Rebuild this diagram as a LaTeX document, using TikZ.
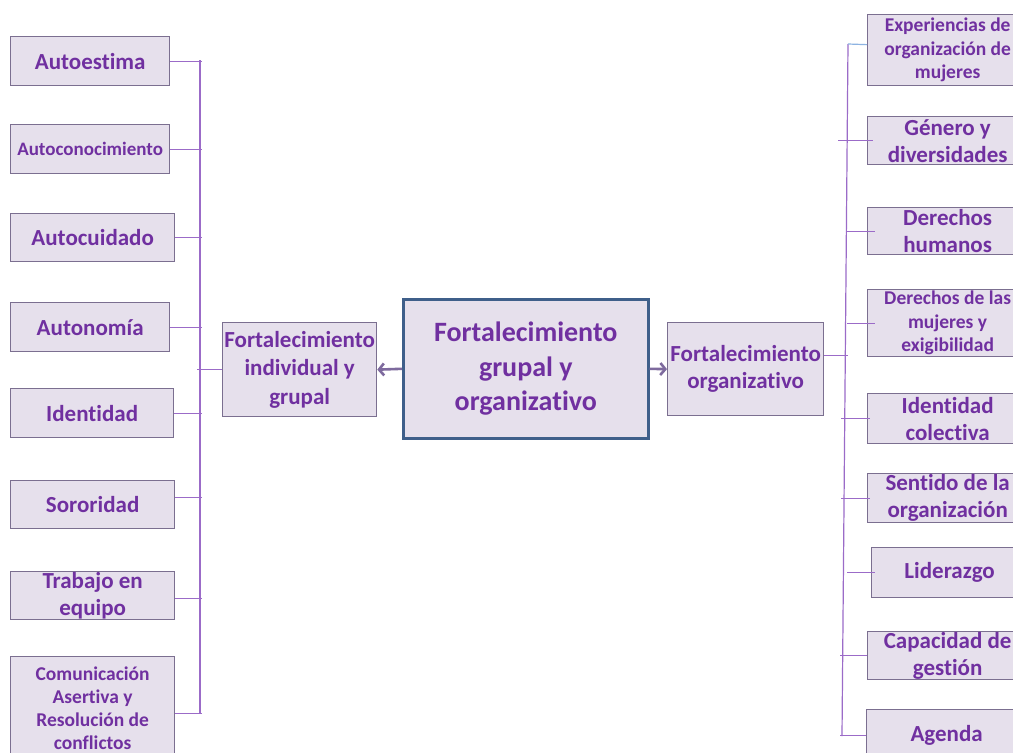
\documentclass[tikz,border=0pt]{standalone}
\usepackage{fontspec}
\setmainfont[Ligatures=NoCommon]{Carlito}
\usetikzlibrary{arrows.meta}
\definecolor{boxfill}{HTML}{E6E0EC}
\definecolor{boxline}{HTML}{7B6F90}
\definecolor{txt}{HTML}{7030A0}
\definecolor{conn}{HTML}{9B6BC8}
\definecolor{mainline}{HTML}{3F5F8A}
\definecolor{arrowc}{HTML}{7E6A9E}
\definecolor{blueconn}{HTML}{8DB3E2}
\begin{document}
\begin{tikzpicture}[x=1pt,y=-1pt,
  box/.style={draw=boxline, line width=1.3pt, fill=boxfill, anchor=north west,
    inner sep=0pt, align=center, text=txt},
  fbig/.style={font=\bfseries\fontsize{23}{27}\selectfont},
  fmid/.style={font=\bfseries\fontsize{19.5}{23.5}\selectfont},
  mainbox/.style={box, draw=mainline, line width=2.6pt, font=\bfseries\fontsize{28}{34.5}\selectfont},
  conline/.style={draw=conn, line width=1.2pt},
  arr/.style={draw=arrowc, line width=2.6pt, -{Straight Barb[length=5pt,width=12pt]}}
]
\useasboundingbox (0,0) rectangle (1013,753);
\clip (0,0) rectangle (1013,753);
\fill[white] (0,0) rectangle (1013,753);

% coordinates of the two vertical bus lines
\coordinate (ltop) at (200,60);
\coordinate (lbot) at (200,713);
\coordinate (rtop) at (848,44);
\coordinate (rbot) at (842,736);

% left boxes
\node[box,fbig,minimum width=159pt,minimum height=49pt] (ae) at (10,36) {Autoestima};
\node[box,font=\bfseries\fontsize{19}{23}\selectfont,minimum width=159pt,minimum height=49pt] (ac) at (10,124) {Autoconocimiento};
\node[box,fbig,minimum width=164pt,minimum height=48pt] (acu) at (10,213) {Autocuidado};
\node[box,fbig,minimum width=159pt,minimum height=49pt] (an) at (10,302) {Autonomía};
\node[box,fbig,minimum width=163pt,minimum height=49pt] (idn) at (10,388) {Identidad};
\node[box,fbig,minimum width=164pt,minimum height=48pt] (so) at (10,480) {Sororidad};
\node[box,fbig,minimum width=164pt,minimum height=48pt] (tr) at (10,571) {Trabajo en\\equipo};
\node[box,font=\bfseries\fontsize{19.5}{23}\selectfont,minimum width=164pt,minimum height=103pt] (co) at (10,656) {Comunicación\\Asertiva y\\Resolución de\\conflictos};

% middle boxes
\node[box,font=\bfseries\fontsize{23}{28.5}\selectfont,minimum width=154pt,minimum height=94pt] (indiv) at (222,322) {Fortalecimiento\\individual y\\grupal};
\node[mainbox,minimum width=245pt,minimum height=139pt] (center) at (402,298) {Fortalecimiento\\grupal y\\organizativo};
\node[box,fbig,minimum width=156pt,minimum height=93pt] (org) at (667,322) {Fortalecimiento\\organizativo};

% right boxes
\node[box,fmid,minimum width=160pt,minimum height=71pt] (ex) at (867,14) {Experiencias de\\organización de\\mujeres};
\node[box,fbig,minimum width=160pt,minimum height=48pt] (ge) at (867,116) {Género y\\diversidades};
\node[box,fbig,minimum width=160pt,minimum height=47pt] (dh) at (867,207) {Derechos\\humanos};
\node[box,fmid,minimum width=160pt,minimum height=67pt] (dm) at (867,289) {Derechos de las\\mujeres y\\exigibilidad};
\node[box,fbig,minimum width=160pt,minimum height=50pt] (ic) at (867,393) {Identidad\\colectiva};
\node[box,fbig,minimum width=160pt,minimum height=49pt] (se) at (867,473) {Sentido de la\\organización};
\node[box,fbig,minimum width=156pt,minimum height=50pt] (li) at (871,547) {Liderazgo};
\node[box,fbig,minimum width=160pt,minimum height=48pt] (cg) at (867,631) {Capacidad de\\gestión};
\node[box,fbig,minimum width=160pt,minimum height=52pt] (ag) at (866,709) {Agenda};

% left bus
\draw[conline] (ltop) -- (lbot);
\draw[conline] (ae.east) -- ([xshift=2pt]ae.east -| ltop);
\draw[conline] (ac.east) -- ([xshift=2pt]ac.east -| ltop);
\draw[conline] (acu.east) -- ([xshift=2pt]acu.east -| ltop);
\draw[conline] (an.east) -- ([xshift=2pt]an.east -| ltop);
\draw[conline] (idn.east) -- ([xshift=2pt]idn.east -| ltop);
\draw[conline] ([yshift=7pt]so.east) -- ([xshift=2pt,yshift=7pt]so.east -| ltop);
\draw[conline] ([yshift=-3pt]tr.east) -- ([xshift=2pt,yshift=-3pt]tr.east -| ltop);
\draw[conline] ([yshift=-5.5pt]co.east) -- ([xshift=2pt,yshift=-5.5pt]co.east -| ltop);
\draw[conline] ([xshift=-3pt]indiv.west -| ltop) -- (indiv.west);

% right bus
\draw[conline] (rtop) -- (rbot);
\draw[draw=blueconn, line width=1.2pt] (rtop) -- ([yshift=5.5pt]ex.west);
\draw[conline] ([yshift=13.5pt]org.east) -- ([yshift=13.5pt]org.east -| rtop);
\draw[conline] ([xshift=-4pt]ge.west -| rbot) -- ([xshift=6pt]ge.west);
\draw[conline] ([xshift=-1pt]dh.west -| rtop) -- ([xshift=8pt]dh.west);
\draw[conline] ([xshift=-1pt]dm.west -| rtop) -- ([xshift=8pt]dm.west);
\draw[conline] ([xshift=-1pt]ic.west -| rbot) -- ([xshift=3pt]ic.west);
\draw[conline] ([xshift=-1pt]se.west -| rbot) -- ([xshift=3pt]se.west);
\draw[conline] ([xshift=5pt]li.west -| rbot) -- ([xshift=4pt]li.west);
\draw[conline] ([xshift=-2pt]cg.west -| rbot) -- (cg.west);
\draw[conline] ([xshift=-2pt]ag.west -| rbot) -- (ag.west);

% arrows
\draw[arr] (center.west) -- (indiv.east);
\draw[arr] (center.east) -- (org.west);
\end{tikzpicture}
\end{document}
